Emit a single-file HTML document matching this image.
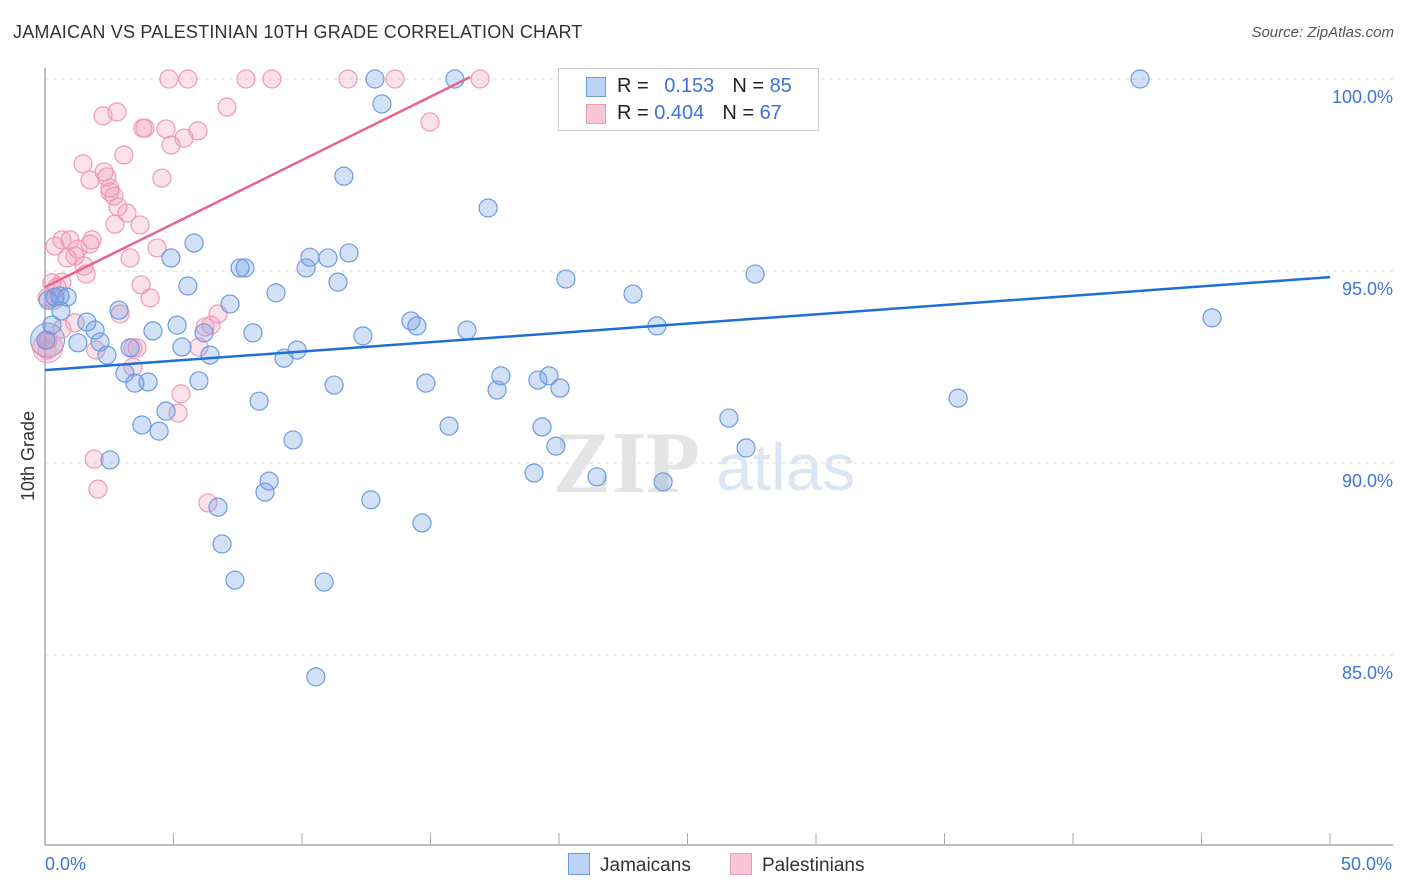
<!DOCTYPE html>
<html><head><meta charset="utf-8"><style>
body{margin:0;background:#fff;font-family:"Liberation Sans",sans-serif;}
#wrap{position:relative;width:1406px;height:892px;overflow:hidden;}
.t{position:absolute;white-space:nowrap;}
</style></head><body>
<div id="wrap">
<div class="t" style="left:13px;top:22px;font-size:18px;color:#333;letter-spacing:0.2px">JAMAICAN VS PALESTINIAN 10TH GRADE CORRELATION CHART</div>
<div class="t" style="right:12px;top:24px;font-size:15px;color:#555;font-style:italic">Source: ZipAtlas.com</div>
<svg id="svg" width="1406" height="892" style="position:absolute;left:0;top:0"></svg>
</div>
<script>
const NS="http://www.w3.org/2000/svg";
const svg=document.getElementById('svg');
const blueX=[0.39,0.62,0.86,1.63,1.95,1.28,2.14,2.41,2.88,3.11,3.50,4.01,3.31,4.20,3.77,4.44,4.71,2.53,4.90,5.14,5.33,5.56,5.80,5.99,6.19,6.42,6.73,6.89,7.20,7.39,7.59,7.78,8.09,8.33,8.56,8.72,8.99,9.30,9.65,9.81,10.16,10.31,10.54,10.86,11.01,11.40,11.25,11.83,11.63,12.37,12.68,12.84,13.11,14.24,14.47,14.67,14.82,15.72,16.42,15.95,17.24,17.59,17.74,19.03,19.18,19.34,19.61,19.88,20.04,20.27,21.48,22.88,23.81,24.05,26.42,26.61,27.28,27.63,35.53,42.61,45.41,0.04,0.27,0.12,0.58];
const blueY=[94.32,93.96,94.32,93.67,93.46,93.13,93.15,92.81,93.98,92.34,92.08,92.11,93.0,93.44,90.99,90.83,91.35,90.08,95.34,93.59,93.02,94.61,95.73,92.14,93.39,92.81,88.85,87.89,94.14,86.95,95.08,95.08,93.39,91.61,89.24,89.53,94.43,92.73,90.60,92.94,95.08,95.36,84.43,86.90,95.34,94.71,92.03,95.47,97.47,93.31,89.04,100,99.35,93.70,93.57,88.44,92.08,90.96,93.46,100,96.64,91.90,92.27,89.74,92.16,90.94,92.27,90.44,91.95,94.79,89.64,94.40,93.57,89.51,100,91.17,90.39,94.92,91.69,100,93.78,93.2,93.59,94.24,94.35];
const pinkX=[0.39,0.66,0.97,1.28,1.75,1.83,0.86,1.17,1.52,1.60,0.27,0.47,0.08,1.48,1.75,2.26,2.80,3.07,2.30,2.41,2.53,2.68,2.84,3.19,3.70,2.72,3.31,3.74,4.09,3.81,3.89,4.36,4.55,4.71,4.90,5.41,5.95,4.82,5.56,7.08,7.82,8.83,11.79,13.62,14.98,16.93,2.92,3.42,3.58,3.42,1.98,1.17,0.35,0.12,0.08,6.23,6.46,6.73,5.99,5.29,5.18,6.34,1.91,2.06,0.66,0.66,2.53];
const pinkY=[95.65,95.81,95.81,95.57,95.70,95.81,95.34,95.39,95.13,94.92,94.69,94.58,94.30,97.79,97.37,99.04,99.14,98.02,97.58,97.45,97.06,96.95,96.67,96.51,96.20,96.22,95.34,94.64,94.30,98.72,98.72,95.60,97.42,98.70,98.28,98.46,98.65,100,100,99.27,100,100,100,100,98.88,100,93.88,93.0,93.0,92.5,92.94,93.65,94.24,93.2,92.94,93.54,93.59,93.88,93.02,91.80,91.30,88.96,90.10,89.32,93.49,94.71,97.16];
const blueTrend=[[0,92.42],[50,94.84]];
const pinkTrend=[[0,94.58],[16.54,100.05]];
const yTicks=[100,95,90,85];
const xTickVals=[0,5,10,15,20,25,30,35,40,45,50];
const X=v=>45+v*25.7, Y=v=>79+(100-v)*38.4;
function mk(tag,attrs){const e=document.createElementNS(NS,tag);for(const k in attrs)e.setAttribute(k,attrs[k]);svg.appendChild(e);return e;}
// gridlines
yTicks.forEach(t=>{
  const l=mk('line',{x1:45,x2:1393,y1:Y(t),y2:Y(t),stroke:'#ddd','stroke-dasharray':'4,4'});
  
  
  const tx=mk('text',{x:1393,y:Y(t)+24,'text-anchor':'end','font-size':18,fill:'#3d74d9','font-family':'Liberation Sans'});
  tx.textContent=t.toFixed(1)+'%';
  
  
});
// axes
const ya=mk('line',{x1:45,x2:45,y1:68,y2:845,stroke:'#aaa','stroke-width':1.5});


const xa=mk('line',{x1:45,x2:1393,y1:845,y2:845,stroke:'#aaa','stroke-width':1.5});


xTickVals.forEach(v=>{
  const l=mk('line',{x1:X(v),x2:X(v),y1:833,y2:845,stroke:'#aaa'});
  
  
});
[[0,'start'],[50,'end']].forEach(([v,a])=>{
  const tx=mk('text',{x:X(v)+(v?62:0),y:870,'text-anchor':a,'font-size':18,fill:'#3d74d9','font-family':'Liberation Sans'});
  tx.textContent=v.toFixed(1)+'%';
  
  
});
const yt=mk('text',{x:34,y:456,'text-anchor':'middle','font-size':18,fill:'#333','font-family':'Liberation Sans',transform:'rotate(-90 34 456)'});
yt.textContent='10th Grade';


// watermark
const wm=mk('text',{x:553,y:492,'font-size':88,fill:'#e4e4e4','font-family':'Liberation Serif','font-weight':'bold'});
wm.textContent='ZIP';


const wm2=mk('text',{x:716,y:490,'font-size':66,fill:'#dce6f3','font-family':'Liberation Sans'});
wm2.textContent='atlas';


// big cluster circles
const bb=mk('circle',{cx:X(0.1),cy:Y(93.2),r:17,fill:'rgba(110,155,230,0.3)',stroke:'#6b9be3'});


const pb=mk('circle',{cx:X(0.1),cy:Y(93.0),r:15,fill:'rgba(240,150,180,0.3)',stroke:'#ee9ab6'});


function pts(xs,ys,fill,stroke,name){xs.forEach((x,i)=>{
  const c=mk('circle',{cx:X(x),cy:Y(ys[i]),r:9,fill:fill,stroke:stroke,'stroke-width':1.2});
  
  
});}
pts(pinkX,pinkY,'rgba(240,150,180,0.28)','#ee9ab6','point-palestinians');
pts(blueX,blueY,'rgba(110,155,230,0.3)','#6b9be3','point-jamaicans');
const bl=mk('line',{x1:X(blueTrend[0][0]),y1:Y(blueTrend[0][1]),x2:X(blueTrend[1][0]),y2:Y(blueTrend[1][1]),stroke:'#1f6fd6','stroke-width':2.5});


const pl=mk('line',{x1:X(pinkTrend[0][0]),y1:Y(pinkTrend[0][1]),x2:X(pinkTrend[1][0]),y2:Y(pinkTrend[1][1]),stroke:'#e8648f','stroke-width':2.5});


</script>
<div class="t" style="left:558px;top:68px;width:259px;height:61px;border:1px solid #ccc;background:#fff;font-size:20px;color:#222">
  <div style="position:absolute;left:27px;top:8px;width:18px;height:18px;background:#bcd3f5;border:1px solid #6b9be3"></div>
  <div style="position:absolute;left:58px;top:6px">R = <span style="color:#3d74d9;margin-left:10px">0.153</span><span style="margin-left:18px">N = </span><span style="color:#3d74d9">85</span></div>
  <div style="position:absolute;left:27px;top:35px;width:18px;height:18px;background:#f8c6d6;border:1px solid #ee9ab6"></div>
  <div style="position:absolute;left:58px;top:33px">R = <span style="color:#3d74d9">0.404</span><span style="margin-left:18px">N = </span><span style="color:#3d74d9">67</span></div>
</div>
<div class="t" style="left:568px;top:853px;font-size:19px;color:#333"><span style="display:inline-block;width:20px;height:20px;background:#bcd3f5;border:1px solid #6b9be3;vertical-align:-4px;margin-right:10px"></span>Jamaicans</div>
<div class="t" style="left:730px;top:853px;font-size:19px;color:#333"><span style="display:inline-block;width:20px;height:20px;background:#f8c6d6;border:1px solid #ee9ab6;vertical-align:-4px;margin-right:10px"></span>Palestinians</div>
</body></html>
